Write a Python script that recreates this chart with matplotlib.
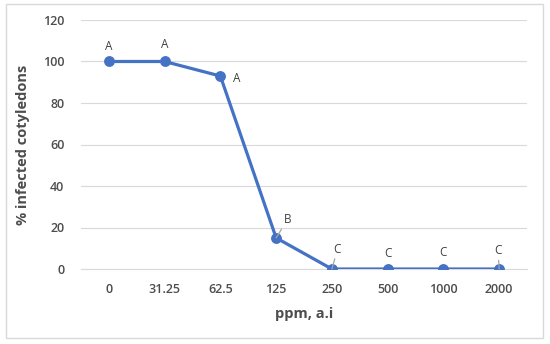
import matplotlib.pyplot as plt
from matplotlib.patches import Rectangle

# data
ppm_labels = ['0', '31.25', '62.5', '125', '250', '500', '1000', '2000']
infected = [100, 100, 93, 15, 0, 0, 0, 0]
letters = ['A', 'A', 'A', 'B', 'C', 'C', 'C', 'C']
# label offsets in points, and whether a leader line is drawn
offsets = [(0, 11), (0, 12), (12, -1.5), (8, 13), (4, 14), (0, 11), (0, 12), (-0.7, 13)]
leaders = [False, False, False, True, True, False, False, True]

plt.rcParams['font.family'] = ['Open Sans', 'DejaVu Sans']

fig = plt.figure(figsize=(5.5, 3.44), dpi=100)
fig.patches.append(Rectangle((6 / 550, 1 - 338 / 344), 537 / 550, 334 / 344,
                             transform=fig.transFigure, fill=False,
                             edgecolor='#D9D9D9', linewidth=1))
ax = fig.add_axes([81 / 550, 1 - 269 / 344, 446 / 550, 249 / 344])

x = list(range(len(ppm_labels)))
ax.plot(x, infected, color='#4472C4', linewidth=2.3, marker='o', markersize=6.8, zorder=3)

for i, (lab, off, lead) in enumerate(zip(letters, offsets, leaders)):
    props = None
    if lead:
        props = dict(arrowstyle='-', color='#A6A6A6', linewidth=0.9, shrinkA=0, shrinkB=0)
    ax.annotate(lab, (x[i], infected[i]), xytext=off, textcoords='offset points',
                ha='center', va='center', fontsize=8.5, color='#404040',
                arrowprops=props, zorder=4)

ax.set_xlim(-0.5, len(ppm_labels) - 0.5)
ax.set_ylim(0, 120)
ax.set_yticks(range(0, 121, 20))
ax.set_xticks(x)
ax.set_xticklabels(ppm_labels)
ax.grid(axis='y', color='#D9D9D9', linewidth=0.8)
ax.set_axisbelow(True)
for s in ax.spines.values():
    s.set_visible(False)
ax.spines['bottom'].set_visible(True)
ax.spines['bottom'].set_color('#D9D9D9')
ax.tick_params(length=0, labelsize=9, labelcolor='#4D4D4D', pad=10)
for t in ax.get_xticklabels() + ax.get_yticklabels():
    t.set_fontweight('semibold')
ax.tick_params(axis='y', pad=12)

ax.set_xlabel('ppm, a.i', fontsize=10.5, fontweight='bold', color='#4D4D4D', labelpad=8)
ax.set_ylabel('% infected cotyledons', fontsize=10.5, fontweight='bold', color='#4D4D4D', labelpad=9)

fig.savefig('out.png', dpi=100)
